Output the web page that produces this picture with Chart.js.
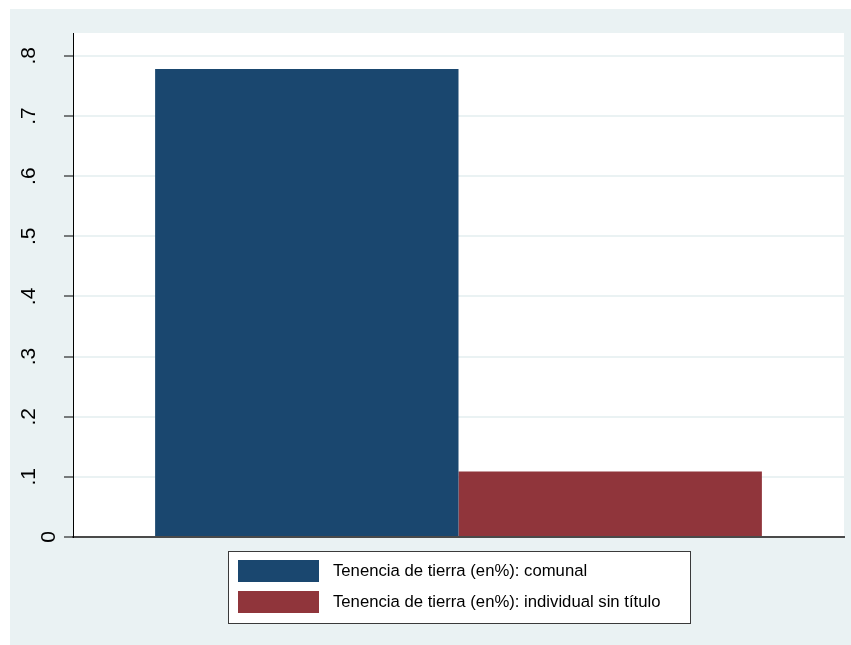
<!DOCTYPE html>
<html>
<head>
<meta charset="utf-8">
<script src="https://cdn.jsdelivr.net/npm/chart.js@4"></script>
<style>
  html, body { margin: 0; padding: 0; background: #fff; }
  canvas { display: block; }
</style>
</head>
<body>
<canvas id="chart" width="851" height="645"></canvas>
<script>
// data
const categories = [''];
const seriesLabels = ['Tenencia de tierra (en%): comunal', 'Tenencia de tierra (en%): individual sin título'];
const comunalValues = [0.778];
const individualValues = [0.109];
const seriesColors = ['#1A476F', '#90353B'];
const yTickValues = [0, 0.1, 0.2, 0.3, 0.4, 0.5, 0.6, 0.7, 0.8];
const yMax = 0.838;

const bgColor = '#EAF2F3';

// Stata-like frame: light outer region, white plot region
const backgroundPlugin = {
    id: 'stataBackground',
    beforeDraw(chart) {
        const { ctx, chartArea } = chart;
        ctx.save();
        ctx.fillStyle = '#ffffff';
        ctx.fillRect(0, 0, chart.width, chart.height);
        ctx.fillStyle = bgColor;
        ctx.fillRect(10, 9, chart.width - 10, chart.height - 9);
        ctx.fillStyle = '#ffffff';
        ctx.fillRect(chartArea.left, chartArea.top, chartArea.right - chartArea.left, chartArea.bottom - chartArea.top);
        ctx.restore();
    }
};

// Legend box under the plot, entries stacked and left aligned
const boxLegendPlugin = {
    id: 'boxLegend',
    afterDraw(chart) {
        const { ctx, chartArea } = chart;
        const w = 462, h = 72;
        const left = Math.round((chartArea.left + chartArea.right) / 2 - w / 2);
        const top = chartArea.bottom + 14;
        ctx.save();
        ctx.fillStyle = '#ffffff';
        ctx.fillRect(left, top, w, h);
        ctx.strokeStyle = '#3a3a3a';
        ctx.lineWidth = 1;
        ctx.strokeRect(left + 0.5, top + 0.5, w, h);
        ctx.font = '16.7px "Liberation Sans", Arial, sans-serif';
        ctx.textBaseline = 'middle';
        ctx.textAlign = 'left';
        chart.data.datasets.forEach((ds, i) => {
            const y = top + 9 + i * 31;
            ctx.fillStyle = ds.backgroundColor;
            ctx.fillRect(left + 10, y, 81, 22);
            ctx.fillStyle = '#000000';
            ctx.fillText(ds.label, left + 105, y + 11.5);
        });
        ctx.restore();
    }
};

const ctx = document.getElementById('chart').getContext('2d');
new Chart(ctx, {
    type: 'bar',
    data: {
        labels: categories,
        datasets: [
            {
                label: seriesLabels[0],
                data: comunalValues,
                backgroundColor: seriesColors[0],
                borderWidth: 0,
                categoryPercentage: 0.787,
                barPercentage: 1,
            },
            {
                label: seriesLabels[1],
                data: individualValues,
                backgroundColor: seriesColors[1],
                borderWidth: 0,
                categoryPercentage: 0.787,
                barPercentage: 1,
            },
        ],
    },
    options: {
        responsive: false,
        animation: false,
        devicePixelRatio: 1,
        layout: {
            padding: { top: 33, right: 7, bottom: 108, left: 0 },
        },
        plugins: {
            legend: { display: false },
            tooltip: { enabled: false },
        },
        scales: {
            x: {
                type: 'category',
                offset: true,
                grid: { display: false },
                ticks: { display: false },
                border: { display: true, color: '#4a4a4a', width: 2 },
                afterFit: (scale) => {
                    scale.height = 0;
                    scale.paddingLeft = 0;
                    scale.paddingRight = 0;
                },
            },
            y: {
                min: 0,
                max: yMax,
                afterBuildTicks: (scale) => {
                    scale.ticks = yTickValues.map((v) => ({ value: v }));
                },
                afterFit: (scale) => {
                    scale.width = 73;
                    scale.paddingTop = 0;
                    scale.paddingBottom = 0;
                },
                grid: {
                    color: bgColor,
                    lineWidth: 2,
                    tickColor: '#000000',
                    tickWidth: 1,
                    tickLength: 9,
                },
                border: { display: true, color: '#000000', width: 1 },
                ticks: {
                    minRotation: 90,
                    maxRotation: 90,
                    crossAlign: 'center',
                    padding: 26,
                    color: '#000000',
                    font: (c) => ({
                        family: '"Liberation Sans", Arial, sans-serif',
                        size: 21,
                        lineHeight: c.tick && c.tick.value === 0 ? '39px' : 1.2,
                    }),
                    callback: (v) => (v === 0 ? ['', '0'] : v.toFixed(1).replace('0.', '.')),
                },
            },
        },
    },
    plugins: [backgroundPlugin, boxLegendPlugin],
});
</script>
</body>
</html>
